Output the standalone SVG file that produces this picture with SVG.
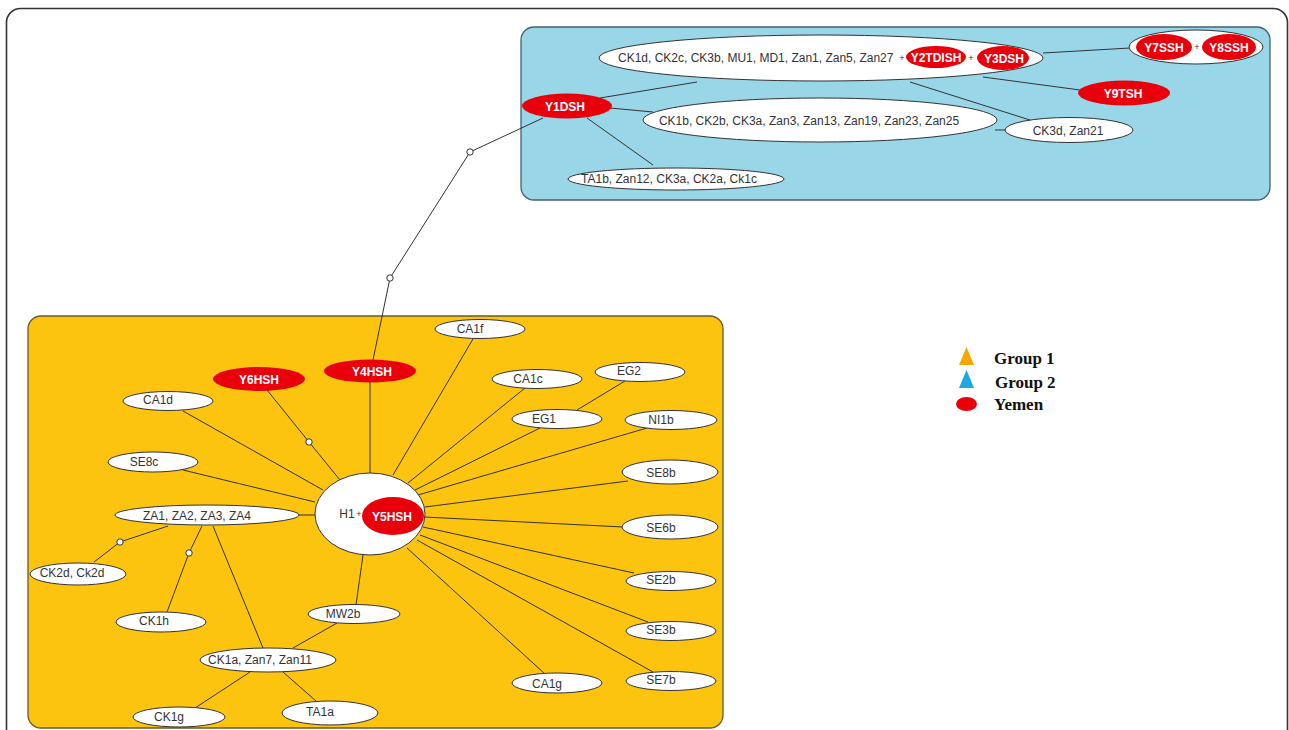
<svg xmlns="http://www.w3.org/2000/svg" width="1289" height="730" viewBox="0 0 1289 730">
  <style>
    .frame { fill: #ffffff; stroke: #333333; stroke-width: 1.6; }
    .panel-blue { fill: #98D6E8; stroke: #46606b; stroke-width: 1.3; }
    .panel-orange { fill: #FCC40F; stroke: #6b5a2a; stroke-width: 1.3; }
    .node { fill: #ffffff; stroke: #333333; stroke-width: 1; }
    .red { fill: #E8000B; stroke: none; }
    .lbl { font-family: "Liberation Sans", Arial, sans-serif; font-size: 12px; fill: #333333; text-anchor: middle; }
    .lbl-l { font-family: "Liberation Sans", Arial, sans-serif; font-size: 12px; fill: #333333; }
    .rlbl { font-family: "Liberation Sans", Arial, sans-serif; font-size: 12px; font-weight: bold; fill: #ffffff; text-anchor: middle; }
    .plus { font-family: "Liberation Sans", Arial, sans-serif; font-size: 9px; fill: #333333; text-anchor: middle; }
    .edge { stroke: #333333; stroke-width: 1; fill: none; }
    .joint { fill: #ffffff; stroke: #333333; stroke-width: 1; }
    .legend { font-family: "Liberation Serif", "Times New Roman", serif; font-size: 17px; font-weight: bold; fill: #111111; }
  </style>

  <!-- outer frame -->
  <rect class="frame" x="6.5" y="8.5" width="1281" height="760" rx="14"/>

  <!-- cluster panels -->
  <rect class="panel-blue" x="521" y="27" width="749" height="173" rx="13"/>
  <rect class="panel-orange" x="28" y="316" width="695" height="412" rx="13"/>

  <!-- connectors -->
  <g id="connectors">
    <!-- link between clusters -->
    <polyline class="edge" points="543,118 470,152 390,278 373,360"/>
    <!-- blue cluster -->
    <line class="edge" x1="600" y1="98" x2="697" y2="82"/>
    <line class="edge" x1="610" y1="108" x2="653" y2="112"/>
    <line class="edge" x1="587" y1="118" x2="653" y2="165"/>
    <line class="edge" x1="1043" y1="53" x2="1130" y2="48"/>
    <line class="edge" x1="983" y1="77" x2="1080" y2="90"/>
    <line class="edge" x1="910" y1="82" x2="1030" y2="120"/>
    <line class="edge" x1="995" y1="130" x2="1006" y2="130"/>
    <!-- orange cluster: hub spokes -->
    <line class="edge" x1="370" y1="382" x2="370" y2="473"/>
    <polyline class="edge" points="267,390 309,442 340,480"/>
    <line class="edge" x1="183" y1="411" x2="323" y2="490"/>
    <line class="edge" x1="183" y1="470" x2="315" y2="502"/>
    <line class="edge" x1="299" y1="515" x2="315" y2="515"/>
    <line class="edge" x1="393" y1="475" x2="473" y2="339"/>
    <line class="edge" x1="408" y1="483" x2="525" y2="388"/>
    <line class="edge" x1="577" y1="410" x2="625" y2="381"/>
    <line class="edge" x1="415" y1="490" x2="540" y2="428"/>
    <line class="edge" x1="418" y1="495" x2="647" y2="428"/>
    <line class="edge" x1="425" y1="507" x2="628" y2="481"/>
    <line class="edge" x1="424" y1="517" x2="623" y2="527"/>
    <line class="edge" x1="423" y1="527" x2="634" y2="573"/>
    <line class="edge" x1="420" y1="535" x2="648" y2="622"/>
    <line class="edge" x1="417" y1="540" x2="653" y2="672"/>
    <line class="edge" x1="407" y1="548" x2="545" y2="674"/>
    <line class="edge" x1="363" y1="555" x2="356" y2="605"/>
    <!-- orange cluster: outer branches -->
    <polyline class="edge" points="168,526 120,542 94,562"/>
    <polyline class="edge" points="202,526 189,553 167,612"/>
    <line class="edge" x1="213" y1="526" x2="263" y2="648"/>
    <line class="edge" x1="337" y1="623" x2="293" y2="648"/>
    <line class="edge" x1="250" y1="672" x2="195" y2="708"/>
    <line class="edge" x1="283" y1="672" x2="316" y2="701"/>
    <!-- branch joints -->
    <circle class="joint" cx="470" cy="152" r="3.2"/>
    <circle class="joint" cx="390" cy="278" r="3.2"/>
    <circle class="joint" cx="309" cy="442" r="3.2"/>
    <circle class="joint" cx="120" cy="542" r="3.2"/>
    <circle class="joint" cx="189" cy="553" r="3.2"/>
  </g>

  <!-- blue cluster nodes -->
  <g id="n-ck1d">
    <ellipse class="node" cx="821" cy="58" rx="222" ry="23"/>
    <text class="lbl-l" x="618" y="62">CK1d, CK2c, CK3b, MU1, MD1, Zan1, Zan5, Zan27</text>
    <text class="plus" x="902" y="61">+</text>
    <ellipse class="red" cx="936" cy="57" rx="30" ry="11"/>
    <text class="rlbl" x="936" y="62">Y2TDISH</text>
    <text class="plus" x="971" y="61">+</text>
    <ellipse class="red" cx="1003" cy="58" rx="26" ry="12"/>
    <text class="rlbl" x="1004" y="63">Y3DSH</text>
  </g>
  <g id="n-y7y8">
    <ellipse class="node" cx="1196" cy="47" rx="67" ry="17"/>
    <ellipse class="red" cx="1164" cy="47" rx="28" ry="13"/>
    <text class="rlbl" x="1164" y="52">Y7SSH</text>
    <text class="plus" x="1197" y="50">+</text>
    <ellipse class="red" cx="1229" cy="47" rx="27" ry="13"/>
    <text class="rlbl" x="1229" y="52">Y8SSH</text>
  </g>
  <g id="n-y9tsh">
    <ellipse class="red" cx="1124" cy="93" rx="46" ry="12.5"/>
    <text class="rlbl" x="1123" y="98">Y9TSH</text>
  </g>
  <g id="n-ck3d">
    <ellipse class="node" cx="1069" cy="130" rx="64" ry="12.5"/>
    <text class="lbl" x="1068" y="135">CK3d, Zan21</text>
  </g>
  <g id="n-ck1b">
    <ellipse class="node" cx="820" cy="120" rx="177" ry="22"/>
    <text class="lbl" x="809" y="125">CK1b, CK2b, CK3a, Zan3, Zan13, Zan19, Zan23, Zan25</text>
  </g>
  <g id="n-y1dsh">
    <ellipse class="red" cx="567" cy="106" rx="45" ry="12.5"/>
    <text class="rlbl" x="565" y="111">Y1DSH</text>
  </g>
  <g id="n-ta1b">
    <ellipse class="node" cx="676" cy="179" rx="108" ry="11"/>
    <text class="lbl" x="669" y="183">TA1b, Zan12, CK3a, CK2a, Ck1c</text>
  </g>

  <!-- orange cluster nodes -->
  <g id="n-hub">
    <ellipse class="node" cx="370" cy="514" rx="55" ry="41"/>
    <text class="lbl" x="347" y="518">H1</text>
    <text class="plus" x="359" y="517">+</text>
    <ellipse class="red" cx="393" cy="516" rx="31" ry="19"/>
    <text class="rlbl" x="392" y="521">Y5HSH</text>
  </g>
  <g id="n-y4hsh">
    <ellipse class="red" cx="370" cy="371" rx="46" ry="11.5"/>
    <text class="rlbl" x="372" y="376">Y4HSH</text>
  </g>
  <g id="n-y6hsh">
    <ellipse class="red" cx="259" cy="379" rx="46" ry="12"/>
    <text class="rlbl" x="259" y="384">Y6HSH</text>
  </g>
  <g id="n-ca1d">
    <ellipse class="node" cx="168" cy="401" rx="45" ry="9.5"/>
    <text class="lbl" x="158" y="404">CA1d</text>
  </g>
  <g id="n-se8c">
    <ellipse class="node" cx="153" cy="462" rx="45" ry="10"/>
    <text class="lbl" x="144" y="466">SE8c</text>
  </g>
  <g id="n-za">
    <ellipse class="node" cx="207" cy="515" rx="92" ry="10"/>
    <text class="lbl" x="197" y="520">ZA1, ZA2, ZA3, ZA4</text>
  </g>
  <g id="n-ca1f">
    <ellipse class="node" cx="480" cy="329" rx="45" ry="9.5"/>
    <text class="lbl" x="470" y="333">CA1f</text>
  </g>
  <g id="n-ca1c">
    <ellipse class="node" cx="537" cy="379" rx="45" ry="9.5"/>
    <text class="lbl" x="528" y="383">CA1c</text>
  </g>
  <g id="n-eg2">
    <ellipse class="node" cx="640" cy="372" rx="45" ry="9.5"/>
    <text class="lbl" x="629" y="375">EG2</text>
  </g>
  <g id="n-eg1">
    <ellipse class="node" cx="557" cy="419" rx="45" ry="9.5"/>
    <text class="lbl" x="544" y="423">EG1</text>
  </g>
  <g id="n-ni1b">
    <ellipse class="node" cx="671" cy="420" rx="46" ry="9.5"/>
    <text class="lbl" x="661" y="424">NI1b</text>
  </g>
  <g id="n-se8b">
    <ellipse class="node" cx="670" cy="472" rx="48" ry="12"/>
    <text class="lbl" x="661" y="477">SE8b</text>
  </g>
  <g id="n-se6b">
    <ellipse class="node" cx="670" cy="527" rx="48" ry="12"/>
    <text class="lbl" x="661" y="532">SE6b</text>
  </g>
  <g id="n-se2b">
    <ellipse class="node" cx="671" cy="581" rx="45" ry="9.5"/>
    <text class="lbl" x="661" y="584">SE2b</text>
  </g>
  <g id="n-se3b">
    <ellipse class="node" cx="671" cy="631" rx="45" ry="9.5"/>
    <text class="lbl" x="661" y="634">SE3b</text>
  </g>
  <g id="n-se7b">
    <ellipse class="node" cx="671" cy="681" rx="45" ry="9.5"/>
    <text class="lbl" x="661" y="684">SE7b</text>
  </g>
  <g id="n-ca1g">
    <ellipse class="node" cx="557" cy="683" rx="45" ry="10"/>
    <text class="lbl" x="547" y="688">CA1g</text>
  </g>
  <g id="n-mw2b">
    <ellipse class="node" cx="354" cy="614" rx="46" ry="9.5"/>
    <text class="lbl" x="343" y="618">MW2b</text>
  </g>
  <g id="n-ck1a">
    <ellipse class="node" cx="268" cy="660" rx="68" ry="12"/>
    <text class="lbl" x="260" y="664">CK1a, Zan7, Zan11</text>
  </g>
  <g id="n-ck1g">
    <ellipse class="node" cx="179" cy="717" rx="46" ry="10"/>
    <text class="lbl" x="169" y="721">CK1g</text>
  </g>
  <g id="n-ta1a">
    <ellipse class="node" cx="330" cy="713" rx="48" ry="12"/>
    <text class="lbl" x="320" y="716">TA1a</text>
  </g>
  <g id="n-ck2d">
    <ellipse class="node" cx="78" cy="574" rx="48" ry="11"/>
    <text class="lbl" x="72" y="577">CK2d, Ck2d</text>
  </g>
  <g id="n-ck1h">
    <ellipse class="node" cx="161" cy="622" rx="45" ry="10"/>
    <text class="lbl" x="154" y="625">CK1h</text>
  </g>

  <!-- legend -->
  <g id="legend">
    <polygon points="966.5,347 974,365 959,365" fill="#F7A800"/>
    <text class="legend" x="994" y="364">Group 1</text>
    <polygon points="966.5,370 974,388 959,388" fill="#1BA9E1"/>
    <text class="legend" x="995" y="388">Group 2</text>
    <ellipse cx="966.5" cy="404" rx="10.5" ry="7" fill="#E8000B"/>
    <text class="legend" x="994" y="410">Yemen</text>
  </g>
</svg>
